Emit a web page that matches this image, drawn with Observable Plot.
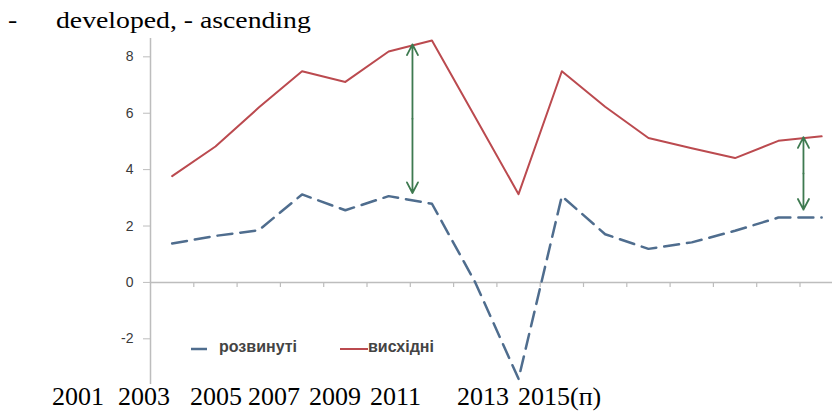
<!DOCTYPE html>
<html>
<head>
<meta charset="utf-8">
<script src="https://cdn.jsdelivr.net/npm/d3@7"></script>
<script src="https://cdn.jsdelivr.net/npm/@observablehq/plot@0.6"></script>
<style>
  html, body { margin: 0; padding: 0; background: #fff; }
  #wrap { position: relative; width: 832px; height: 413px; overflow: hidden; }
  #chart { position: absolute; left: 0; top: 0; }
  .serif { position: absolute; font-family: "Liberation Serif", "Times New Roman", serif; color: #000; line-height: 1; white-space: pre; }
  .title { font-size: 24px; transform: scaleX(1.155); transform-origin: 0 0; }
  .xl { font-size: 26px; }
  .legend { position: absolute; font-family: "Liberation Sans", Arial, sans-serif; font-size: 16px; font-weight: bold; color: #444; line-height: 1; white-space: pre; }
  .sw { position: absolute; }
</style>
</head>
<body>
<div id="wrap"></div>
<script>
// ---- data ----
const years = [2001, 2002, 2003, 2004, 2005, 2006, 2007, 2008, 2009, 2010, 2011, 2012, 2013, 2014, 2015, 2016];
const developed = [1.38, 1.65, 1.85, 3.12, 2.56, 3.06, 2.79, 0.0, -3.42, 3.06, 1.71, 1.19, 1.42, 1.83, 2.3, 2.3];
const emerging  = [3.77, 4.82, 6.2, 7.49, 7.11, 8.19, 8.58, 5.86, 3.13, 7.49, 6.23, 5.12, 4.76, 4.41, 5.02, 5.18];
const seriesNames = ["розвинуті", "висхідні"];
const yTicks = [-2, 0, 2, 4, 6, 8];
const xLabels = ["2001", "2003", "2005", "2007", "2009", "2011", "2013", "2015(п)"];
const titleDash = "-";
const titleText = "developed, - ascending";
// gap arrows: position (in category index units) and ends
const arrowPos = [5.55, 14.58];
const arrowTop = [8.44, 5.15];
const arrowBottom = [3.17, 2.58];

// ---- layout / style ----
const xLabelLeft = [52, 118, 190, 248, 309, 370, 457, 518];
const colDev = "#4f6d8e";
const colEm = "#bb4a4f";
const colArrow = "#3e7a50";
const axisGray = "#bdbdbd";

const devData = years.map((y, i) => ({i, year: y, v: developed[i]}));
const emData = years.map((y, i) => ({i, year: y, v: emerging[i]}));
const arrowsUp = arrowPos.map((x, k) => ({x, y1: (arrowBottom[k] + arrowTop[k]) / 2, y2: arrowTop[k]}));
const arrowsDown = arrowPos.map((x, k) => ({x, y1: (arrowBottom[k] + arrowTop[k]) / 2, y2: arrowBottom[k]}));
const boundaries = years.slice(0, -1).map((_, i) => i + 0.5);

const arrowOpts = {x1: "x", x2: "x", y1: "y1", y2: "y2", stroke: colArrow, strokeWidth: 1.8, headLength: 10, headAngle: 55, insetStart: 0, insetEnd: 0};

const chart = Plot.plot({
  width: 832,
  height: 413,
  marginLeft: 150,
  marginRight: 0,
  marginTop: 38,
  marginBottom: 29,
  style: {fontFamily: "'Liberation Sans', Arial, sans-serif", background: "#fff"},
  x: {domain: [-0.5, years.length - 0.5], range: [150, 150 + 43.3 * years.length], axis: null},
  y: {domain: [-3.62, 8.65], axis: null},
  marks: [
    Plot.ruleX([-0.5], {y1: -3.62, y2: 8.65, stroke: axisGray, strokeWidth: 1.5}),
    Plot.ruleY([0], {x1: -0.5, x2: years.length - 0.5, stroke: axisGray, strokeWidth: 1.5}),
    Plot.ruleX(boundaries, {x: d => d, y1: 0, y2: -0.18, stroke: axisGray, strokeWidth: 1.2}),
    Plot.axisY({ticks: yTicks, anchor: "left", tickSize: 7, tickPadding: 10, fontSize: 14, stroke: axisGray, fill: "#3a3a3a", tickFormat: d => String(d)}),
    Plot.line(emData, {x: "i", y: "v", stroke: colEm, strokeWidth: 2}),
    Plot.line(devData, {x: "i", y: "v", stroke: colDev, strokeWidth: 2.5, strokeDasharray: "15,8"}),
    Plot.arrow(arrowsUp, arrowOpts),
    Plot.arrow(arrowsDown, arrowOpts)
  ]
});
chart.id = "chart";
const wrap = document.getElementById("wrap");
wrap.appendChild(chart);

function addText(cls, text, left, top) {
  const d = document.createElement("div");
  d.className = cls;
  d.textContent = text;
  d.style.left = left + "px";
  d.style.top = top + "px";
  wrap.appendChild(d);
  return d;
}
addText("serif title", titleDash, 8, 8);
addText("serif title", titleText, 56, 8);

xLabels.forEach((t, k) => addText("serif xl", t, xLabelLeft[k], 384));

function swatch(left, top, w, color, dash) {
  const ns = "http://www.w3.org/2000/svg";
  const s = document.createElementNS(ns, "svg");
  s.setAttribute("width", w);
  s.setAttribute("height", 4);
  s.setAttribute("class", "sw");
  s.style.left = left + "px";
  s.style.top = top + "px";
  const l = document.createElementNS(ns, "line");
  l.setAttribute("x1", 0); l.setAttribute("x2", w);
  l.setAttribute("y1", 2); l.setAttribute("y2", 2);
  l.setAttribute("stroke", color);
  l.setAttribute("stroke-width", dash ? 2.5 : 2);
  s.appendChild(l);
  wrap.appendChild(s);
}
swatch(191, 347, 16, colDev, true);
addText("legend", seriesNames[0], 219, 339);
swatch(340, 347, 28, colEm, false);
addText("legend", seriesNames[1], 368, 339);
</script>
</body>
</html>
